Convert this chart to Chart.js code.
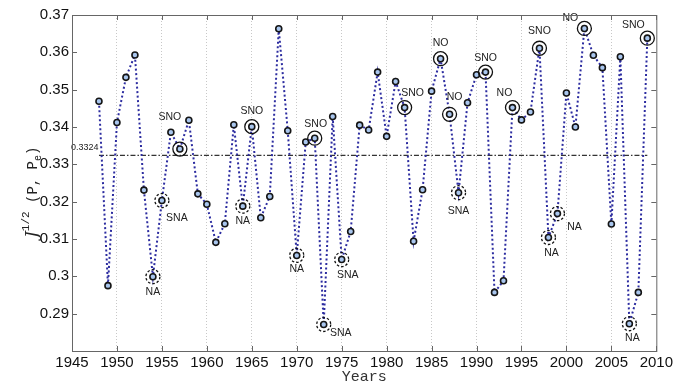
<!DOCTYPE html>
<html>
<head>
<meta charset="utf-8">
<script src="https://cdn.jsdelivr.net/npm/chart.js@4"></script>
<style>
  body { margin: 0; background: #fff; }
  canvas { display: block; }
</style>
</head>
<body>
<canvas id="ctx" width="676" height="386"></canvas>
<script>
// Data
const years = [1948, 1949, 1950, 1951, 1952, 1953, 1954, 1955, 1956, 1957,
  1958, 1959, 1960, 1961, 1962, 1963, 1964, 1965, 1966, 1967,
  1968, 1969, 1970, 1971, 1972, 1973, 1974, 1975, 1976, 1977,
  1978, 1979, 1980, 1981, 1982, 1983, 1984, 1985, 1986, 1987,
  1988, 1989, 1990, 1991, 1992, 1993, 1994, 1995, 1996, 1997,
  1998, 1999, 2000, 2001, 2002, 2003, 2004, 2005, 2006, 2007,
  2008, 2009];
const values = [0.3469, 0.2975, 0.3412, 0.3533, 0.3593, 0.3231, 0.2999, 0.3203, 0.3386, 0.3341,
  0.3418, 0.3221, 0.3193, 0.3091, 0.3141, 0.3406, 0.3188, 0.3401, 0.3157, 0.3214,
  0.3663, 0.3390, 0.3056, 0.3360, 0.3370, 0.2871, 0.3428, 0.3045, 0.3120, 0.3405,
  0.3392, 0.3547, 0.3375, 0.3522, 0.3452, 0.3094, 0.3232, 0.3496, 0.3583, 0.3434,
  0.3224, 0.3465, 0.3540, 0.3547, 0.2957, 0.2988, 0.3452, 0.3419, 0.3440, 0.3611,
  0.3104, 0.3168, 0.3491, 0.3400, 0.3664, 0.3592, 0.3559, 0.3140, 0.3588, 0.2873,
  0.2957, 0.3638];
const meanValue = 0.3324;
const markYears = [1954, 1955, 1957, 1964, 1965, 1970, 1972, 1973, 1975, 1982, 1986,
  1987, 1988, 1991, 1994, 1997, 1998, 1999, 2002, 2007, 2009];
const markLabels = ['NA', 'SNA', 'SNO', 'NA', 'SNO', 'NA', 'SNO', 'SNA', 'SNA', 'SNO', 'NO',
  'NO', 'SNA', 'SNO', 'NO', 'SNO', 'NA', 'NA', 'NO', 'NA', 'SNO'];
const xTicks = [1945, 1950, 1955, 1960, 1965, 1970, 1975, 1980, 1985, 1990, 1995, 2000, 2005, 2010];
const yTicks = [0.29, 0.30, 0.31, 0.32, 0.33, 0.34, 0.35, 0.36, 0.37];

// label placement around each marked point (px)
const labelOffset = {
  1954: [0, 15], 1955: [15, 18], 1957: [-10, -32], 1964: [0, 15], 1965: [0, -16],
  1970: [0, 14], 1972: [1, -14], 1973: [17, 9], 1975: [6, 16], 1982: [8, -14],
  1986: [0, -16], 1987: [5, -17], 1988: [0, 18], 1991: [0, -14], 1994: [-8, -14],
  1997: [0, -17], 1998: [3, 16], 1999: [17, 13], 2002: [-14, -10], 2007: [3, 14],
  2009: [-14, -13]
};

const points = years.map((y, i) => ({ x: y, y: values[i] }));
const meanLine = [{ x: years[0], y: meanValue }, { x: years[years.length - 1], y: meanValue }];

const framePlugin = {
  id: 'frame',
  afterDatasetsDraw(chart) {
    const c = chart.ctx;
    const a = chart.chartArea;
    const xs = chart.scales.x, ys = chart.scales.y;

    // event circles + labels
    c.save();
    markYears.forEach((yr, i) => {
      const v = values[years.indexOf(yr)];
      const px = xs.getPixelForValue(yr), py = ys.getPixelForValue(v);
      const dashed = markLabels[i].endsWith('A');
      c.beginPath();
      c.setLineDash(dashed ? [2.5, 2] : []);
      c.lineWidth = 1.3;
      c.strokeStyle = '#111';
      c.arc(px, py, 7, 0, Math.PI * 2);
      c.stroke();
      const off = labelOffset[yr] || [0, -15];
      c.setLineDash([]);
      c.fillStyle = '#222';
      c.font = '10.5px "Liberation Sans", Arial, sans-serif';
      c.textAlign = 'center';
      c.textBaseline = 'middle';
      c.fillText(markLabels[i], px + off[0], py + off[1]);
    });
    c.restore();

    // mean value label
    c.save();
    c.fillStyle = '#222';
    c.font = '9px "Liberation Sans", Arial, sans-serif';
    c.textAlign = 'left';
    c.textBaseline = 'middle';
    c.fillText(meanValue.toString(), a.left - 1, ys.getPixelForValue(meanValue) - 8);
    c.restore();

    // box and inward ticks
    c.save();
    c.strokeStyle = '#666';
    c.lineWidth = 1;
    c.strokeRect(a.left + 0.5, a.top + 0.5, a.right - a.left, a.bottom - a.top);
    c.beginPath();
    xTicks.forEach(t => {
      const p = Math.round(xs.getPixelForValue(t)) + 0.5;
      c.moveTo(p, a.bottom); c.lineTo(p, a.bottom - 5);
      c.moveTo(p, a.top); c.lineTo(p, a.top + 5);
    });
    yTicks.forEach(t => {
      const p = Math.round(ys.getPixelForValue(t)) + 0.5;
      c.moveTo(a.left, p); c.lineTo(a.left + 5, p);
      c.moveTo(a.right, p); c.lineTo(a.right - 5, p);
    });
    c.stroke();
    c.restore();

    // y axis title: J^{1/2} (P, P_e)
    c.save();
    c.translate(37, 238);
    c.rotate(-Math.PI / 2);
    c.fillStyle = '#222';
    c.textBaseline = 'alphabetic';
    c.textAlign = 'left';
    let x = 0;
    const part = (txt, font, dy) => {
      c.font = font;
      c.fillText(txt, x, dy);
      x += c.measureText(txt).width;
    };
    part('J', 'italic 17px "DejaVu Serif", serif', 0);
    part('1/2', '11px "Liberation Mono", monospace', -8);
    part(' (P, P', '14px "Liberation Mono", monospace', 0);
    part('e', '10px "Liberation Mono", monospace', 4);
    part(')', '14px "Liberation Mono", monospace', 0);
    c.restore();
  }
};

new Chart(document.getElementById('ctx'), {
  type: 'line',
  data: {
    datasets: [{
      label: 'J',
      data: points,
      borderColor: '#2c2ca0',
      borderWidth: 2,
      borderDash: [2, 2.5],
      pointRadius: 3,
      pointBorderWidth: 1.6,
      pointBorderColor: '#151515',
      pointBackgroundColor: '#a9c6ee',
      tension: 0
    }, {
      label: 'mean',
      data: meanLine,
      borderColor: '#333',
      borderWidth: 1.3,
      borderDash: [5, 2, 1.5, 2],
      pointRadius: 0
    }]
  },
  options: {
    responsive: false,
    animation: false,
    layout: { padding: { top: 15, right: 18, left: 0, bottom: 0 } },
    plugins: {
      legend: { display: false },
      tooltip: { enabled: false }
    },
    scales: {
      x: {
        type: 'linear',
        min: 1945,
        max: 2010,
        afterFit: s => { s.height = 35; },
        afterBuildTicks: s => { s.ticks = xTicks.map(v => ({ value: v })); },
        ticks: {
          padding: 3,
          color: '#111',
          font: { family: '"Liberation Sans", Arial, sans-serif', size: 15 },
          callback: v => String(v)
        },
        grid: {
          drawTicks: false,
          color: ctx => (ctx.index === 0 || ctx.index === xTicks.length - 1) ? 'rgba(0,0,0,0)' : '#c8c8c8',
          lineWidth: 1
        },
        border: { display: false, dash: [1, 2] },
        title: {
          display: true,
          text: 'Years',
          color: '#333',
          padding: { top: 0, bottom: 0 },
          font: { family: '"Liberation Mono", "Courier New", monospace', size: 15 }
        }
      },
      y: {
        type: 'linear',
        min: 0.28,
        max: 0.37,
        afterFit: s => { s.width = 72; },
        afterBuildTicks: s => { s.ticks = yTicks.map(v => ({ value: v })); },
        ticks: {
          padding: 3,
          color: '#111',
          font: { family: '"Liberation Sans", Arial, sans-serif', size: 15 },
          callback: v => String(Number(v.toFixed(2)))
        },
        grid: { display: false, drawTicks: false },
        border: { display: false }
      }
    }
  },
  plugins: [framePlugin]
});
</script>
</body>
</html>
